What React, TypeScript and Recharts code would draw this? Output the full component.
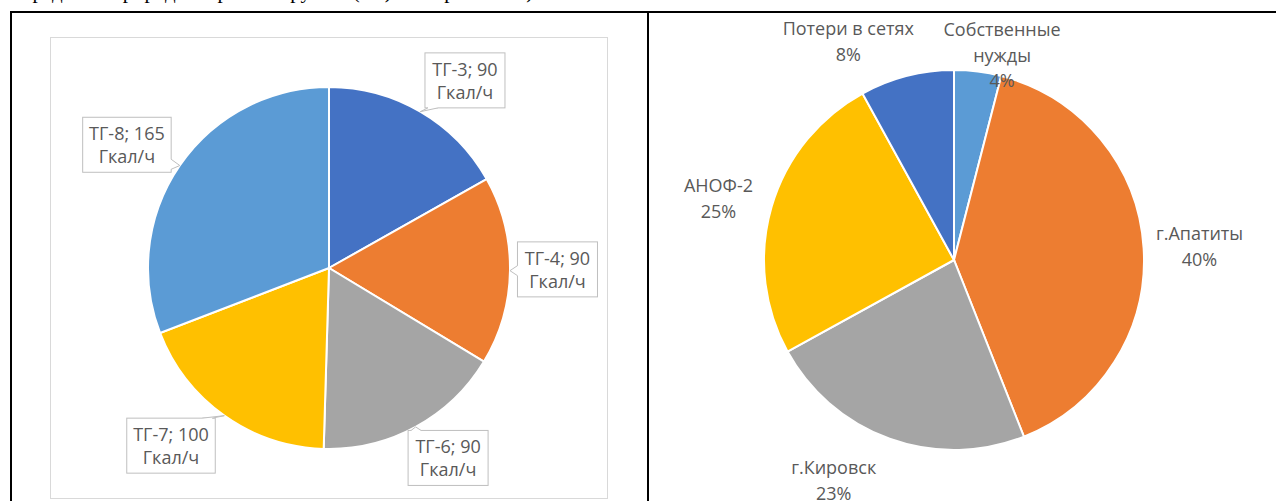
import { PieChart, Pie, Cell } from 'recharts';

// левая диаграмма: турбогруппы
const TG_NAMES = ['ТГ-3', 'ТГ-4', 'ТГ-6', 'ТГ-7', 'ТГ-8'];
const TG_VALUES = [90, 90, 90, 100, 165];
const TG_UNIT = 'Гкал/ч';

// правая диаграмма: потребители, %
const CONS_NAMES = ['Собственные\nнужды', 'г.Апатиты', 'г.Кировск', 'АНОФ-2', 'Потери в сетях'];
const CONS_VALUES = [4, 40, 23, 25, 8];

const TG_COLORS = ['#4472C4', '#ED7D31', '#A5A5A5', '#FFC000', '#5B9BD5'];
const CONS_COLORS = ['#5B9BD5', '#ED7D31', '#A5A5A5', '#FFC000', '#4472C4'];

const TG_NUDGE = [[20, 11], [-1.5, -2], [9, -12], [-25, -10], [-12.5, 7]];
const CONS_NUDGE = [[18, 33], [6, 1], [-39, -6], [-5, 5], [-46, 13.5]];

const FONT = '"Open Sans", sans-serif';
const TEXT_COLOR = '#595959';
const RAD = Math.PI / 180;
const NO_MARGIN = { top: 0, right: 0, bottom: 0, left: 0 };

const tgData = TG_NAMES.map((name, i) => ({ name, value: TG_VALUES[i] }));
const consData = CONS_NAMES.map((name, i) => ({ name, value: CONS_VALUES[i] }));

const clamp = (v: number, a: number, b: number) => Math.max(a, Math.min(b, v));

function TgLabel(props: any) {
  const { cx, cy, midAngle, outerRadius, index, name, value } = props;
  const cos = Math.cos(-midAngle * RAD);
  const sin = Math.sin(-midAngle * RAD);
  const [nx, ny] = TG_NUDGE[index];
  const bx = cx + 230 * cos + nx;
  const by = cy + 230 * sin + ny;
  const line1 = `${name}; ${value}`;
  const w = Math.max(line1.length, TG_UNIT.length) * 8.5 + 12;
  const h = 55;
  const x0 = bx - w / 2, y0 = by - h / 2, x1 = bx + w / 2, y1 = by + h / 2;
  const tx = cx + outerRadius * cos;
  const ty = cy + outerRadius * sin;
  const bw = 5;
  let a: number[], b: number[], c: number[], d: number[];
  if (ty > y1) {
    const px = clamp(tx, x0 + 8, x1 - 8);
    a = [px - bw, y1]; b = [px + bw, y1]; c = [px - bw, y1 - 1.5]; d = [px + bw, y1 - 1.5];
  } else if (ty < y0) {
    const px = clamp(tx, x0 + 8, x1 - 8);
    a = [px - bw, y0]; b = [px + bw, y0]; c = [px - bw, y0 + 1.5]; d = [px + bw, y0 + 1.5];
  } else if (tx < x0) {
    const py = clamp(ty, y0 + 8, y1 - 8);
    a = [x0, py - bw]; b = [x0, py + bw]; c = [x0 + 1.5, py - bw]; d = [x0 + 1.5, py + bw];
  } else {
    const py = clamp(ty, y0 + 8, y1 - 8);
    a = [x1, py - bw]; b = [x1, py + bw]; c = [x1 - 1.5, py - bw]; d = [x1 - 1.5, py + bw];
  }
  return (
    <g>
      <rect x={x0} y={y0} width={w} height={h} fill="#fff" stroke="#BFBFBF" strokeWidth={1} />
      <polygon points={`${c[0]},${c[1]} ${a[0]},${a[1]} ${tx},${ty} ${b[0]},${b[1]} ${d[0]},${d[1]}`} fill="#fff" />
      <polyline points={`${a[0]},${a[1]} ${tx},${ty} ${b[0]},${b[1]}`} fill="none" stroke="#BFBFBF" strokeWidth={1} />
      <text x={bx} textAnchor="middle" dominantBaseline="central" fill={TEXT_COLOR} fontFamily={FONT} fontSize={18}>
        <tspan x={bx} y={by - 11.5}>{line1}</tspan>
        <tspan x={bx} y={by + 11.5}>{TG_UNIT}</tspan>
      </text>
    </g>
  );
}

function ConsLabel(props: any) {
  const { cx, cy, midAngle, index, value } = props;
  const cos = Math.cos(-midAngle * RAD);
  const sin = Math.sin(-midAngle * RAD);
  const [nx, ny] = CONS_NUDGE[index];
  const bx = cx + 240 * cos + nx;
  const by = cy + 240 * sin + ny;
  const lines = [...CONS_NAMES[index].split('\n'), `${value}%`];
  const lh = 25.5;
  const top = by - ((lines.length - 1) * lh) / 2;
  return (
    <text textAnchor="middle" dominantBaseline="central" fill={TEXT_COLOR} fontFamily={FONT} fontSize={18}>
      {lines.map((l, i) => (
        <tspan key={i} x={bx} y={top + i * lh}>{l}</tspan>
      ))}
    </text>
  );
}

export default function App() {
  return (
    <div style={{ width: 1260, height: 485 }}>
      <div style={{ position: 'fixed', left: 0, top: 0, width: 1276, height: 501, overflow: 'hidden', background: '#fff' }}>
        <div
          style={{
            position: 'absolute', top: -21, left: 12, whiteSpace: 'nowrap',
            fontFamily: '"Liberation Serif", serif', fontSize: 21, lineHeight: '24px', color: '#000'
          }}
        >
          передача в природный режим группы (ТГ) и потребители)
        </div>
        {/* рамки таблицы */}
        <div style={{ position: 'absolute', left: 10, top: 11, width: 1266, height: 2, background: '#000' }} />
        <div style={{ position: 'absolute', left: 10, top: 11, width: 2, height: 490, background: '#000' }} />
        <div style={{ position: 'absolute', left: 647, top: 11, width: 2, height: 490, background: '#000' }} />

        <div style={{ position: 'absolute', left: 50, top: 37, width: 556, height: 460, border: '1px solid #D9D9D9' }} />
        <div style={{ position: 'absolute', left: 50, top: 37 }}>
          <PieChart width={557} height={462} margin={NO_MARGIN} style={{ overflow: 'visible' }}>
            <Pie
              data={tgData}
              dataKey="value"
              nameKey="name"
              cx={279}
              cy={231}
              outerRadius={181}
              startAngle={90}
              endAngle={-270}
              label={TgLabel}
              labelLine={false}
              isAnimationActive={false}
            >
              {tgData.map((_, i) => (
                <Cell key={i} fill={TG_COLORS[i]} stroke="#fff" strokeWidth={2} />
              ))}
            </Pie>
          </PieChart>
        </div>

        <div style={{ position: 'absolute', left: 650, top: 13 }}>
          <PieChart width={626} height={488} margin={NO_MARGIN} style={{ overflow: 'visible' }}>
            <Pie
              data={consData}
              dataKey="value"
              nameKey="name"
              cx={304}
              cy={247}
              outerRadius={190}
              startAngle={90}
              endAngle={-270}
              label={ConsLabel}
              labelLine={false}
              isAnimationActive={false}
            >
              {consData.map((_, i) => (
                <Cell key={i} fill={CONS_COLORS[i]} stroke="#fff" strokeWidth={2} />
              ))}
            </Pie>
          </PieChart>
        </div>
      </div>
    </div>
  );
}
